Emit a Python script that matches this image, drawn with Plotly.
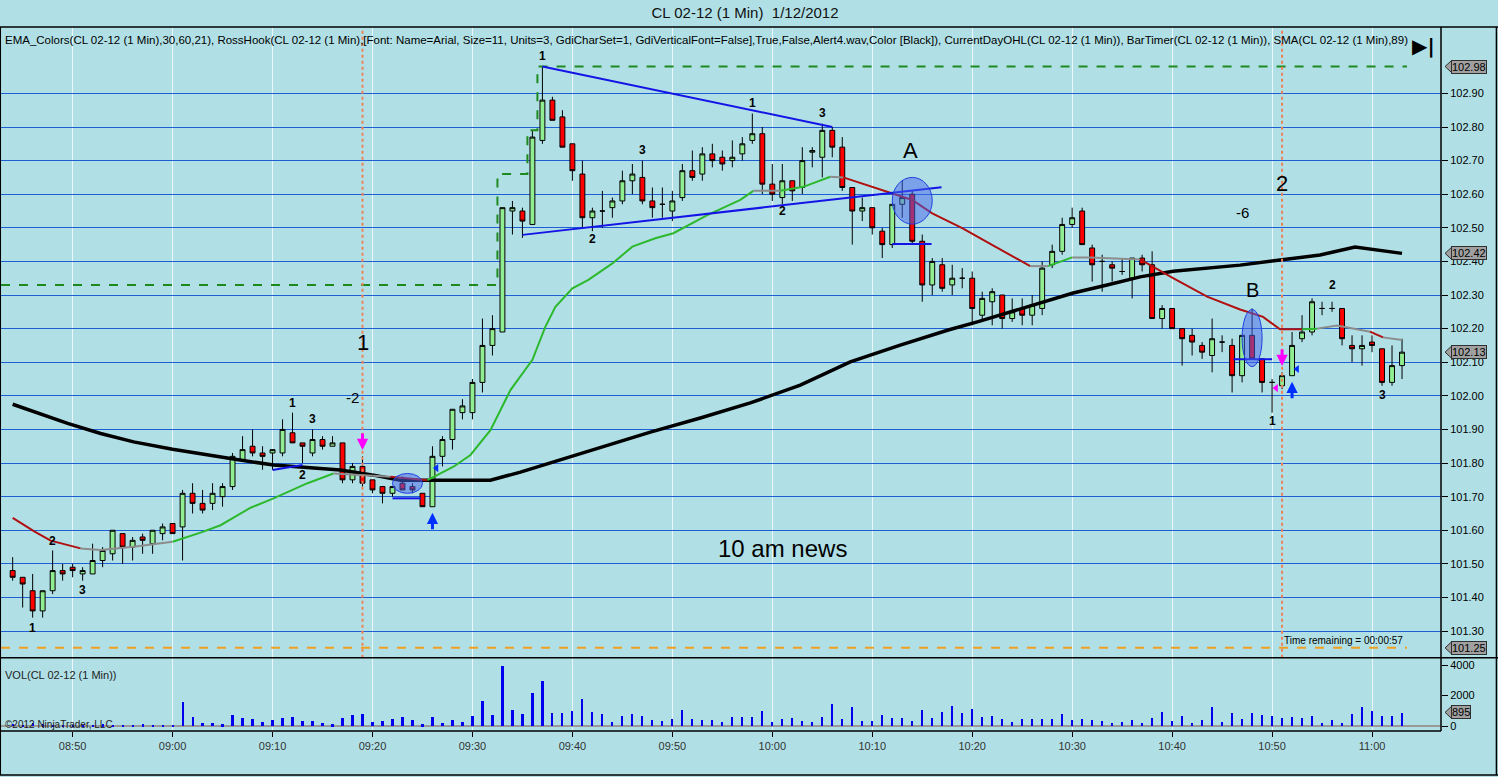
import pandas as pd
import plotly.graph_objects as go

DAY = "2012-01-12"
FIRST_BAR = "08:44"

# one-minute bars, 08:44 .. 11:03
OPEN = [101.48, 101.46, 101.42, 101.36, 101.42, 101.48, 101.49, 101.47, 101.47, 101.51,
        101.53, 101.59, 101.55, 101.58, 101.56, 101.59, 101.62, 101.61, 101.71, 101.68,
        101.68, 101.70, 101.73, 101.81, 101.85, 101.83, 101.83, 101.83, 101.89, 101.86,
        101.83, 101.87, 101.85, 101.86, 101.75, 101.79, 101.75, 101.73, 101.71, 101.74,
        101.73, 101.71, 101.67, 101.82, 101.87, 101.95, 101.95, 102.04, 102.15, 102.19,
        102.55, 102.55, 102.51, 102.76, 102.88, 102.83, 102.75, 102.66, 102.53, 102.55,
        102.56, 102.58, 102.64, 102.65, 102.58, 102.57, 102.55, 102.59, 102.67, 102.66,
        102.72, 102.71, 102.70, 102.72, 102.76, 102.78, 102.63, 102.59, 102.64, 102.62,
        102.725, 102.71, 102.79, 102.74, 102.62, 102.55, 102.56, 102.49, 102.45, 102.57,
        102.60, 102.46, 102.33, 102.39, 102.33, 102.35, 102.35, 102.24, 102.28, 102.30,
        102.23, 102.26, 102.24, 102.26, 102.39, 102.43, 102.51, 102.55, 102.44, 102.40,
        102.39, 102.37, 102.35, 102.41, 102.39, 102.23, 102.26, 102.20, 102.18, 102.15,
        102.12, 102.16, 102.15, 102.06, 102.18, 102.11, 102.04, 102.03, 102.06, 102.17,
        102.19, 102.26, 102.26, 102.26, 102.15, 102.14, 102.16, 102.14, 102.04, 102.09]
HIGH = [101.52, 101.46, 101.47, 101.42, 101.54, 101.50, 101.50, 101.49, 101.56, 101.55,
        101.60, 101.59, 101.58, 101.59, 101.60, 101.62, 101.62, 101.72, 101.74, 101.72,
        101.74, 101.74, 101.83, 101.88, 101.90, 101.85, 101.84, 101.93, 101.95, 101.86,
        101.90, 101.88, 101.88, 101.86, 101.80, 101.82, 101.75, 101.73, 101.73, 101.76,
        101.74, 101.71, 101.85, 101.88, 101.96, 101.99, 102.05, 102.23, 102.24, 102.56,
        102.58, 102.56, 102.79, 102.98, 102.89, 102.85, 102.75, 102.70, 102.56, 102.61,
        102.59, 102.67, 102.69, 102.70, 102.62, 102.62, 102.61, 102.69, 102.73, 102.74,
        102.75, 102.73, 102.76, 102.77, 102.84, 102.80, 102.69, 102.69, 102.64, 102.74,
        102.74, 102.81, 102.80, 102.77, 102.62, 102.59, 102.56, 102.50, 102.57, 102.64,
        102.61, 102.48, 102.41, 102.41, 102.39, 102.38, 102.37, 102.31, 102.32, 102.30,
        102.29, 102.29, 102.30, 102.40, 102.45, 102.53, 102.56, 102.56, 102.45, 102.42,
        102.40, 102.41, 102.41, 102.42, 102.43, 102.27, 102.26, 102.20, 102.20, 102.16,
        102.23, 102.18, 102.17, 102.18, 102.26, 102.11, 102.05, 102.07, 102.19, 102.24,
        102.29, 102.28, 102.28, 102.26, 102.18, 102.18, 102.18, 102.14, 102.15, 102.17]
LOW = [101.45, 101.37, 101.34, 101.34, 101.41, 101.45, 101.46, 101.45, 101.47, 101.49,
       101.51, 101.50, 101.51, 101.53, 101.53, 101.57, 101.59, 101.51, 101.65, 101.65,
       101.66, 101.67, 101.72, 101.81, 101.82, 101.78, 101.78, 101.82, 101.86, 101.80,
       101.82, 101.84, 101.85, 101.74, 101.74, 101.73, 101.71, 101.68, 101.70, 101.72,
       101.71, 101.67, 101.67, 101.79, 101.84, 101.93, 101.93, 102.01, 102.12, 102.19,
       102.48, 102.47, 102.51, 102.75, 102.82, 102.74, 102.64, 102.50, 102.49, 102.50,
       102.53, 102.57, 102.60, 102.57, 102.53, 102.53, 102.52, 102.58, 102.64, 102.64,
       102.68, 102.67, 102.68, 102.70, 102.75, 102.60, 102.58, 102.57, 102.58, 102.60,
       102.68, 102.65, 102.71, 102.61, 102.45, 102.52, 102.48, 102.41, 102.44, 102.53,
       102.45, 102.28, 102.30, 102.31, 102.30, 102.32, 102.21, 102.22, 102.21, 102.20,
       102.22, 102.21, 102.21, 102.24, 102.38, 102.42, 102.50, 102.45, 102.34, 102.31,
       102.34, 102.36, 102.29, 102.37, 102.23, 102.20, 102.20, 102.09, 102.12, 102.11,
       102.07, 102.13, 102.01, 102.04, 102.11, 102.01, 101.95, 102.02, 102.06, 102.16,
       102.18, 102.24, 102.25, 102.15, 102.10, 102.09, 102.13, 102.03, 102.03, 102.05]
CLOSE = [101.46, 101.44, 101.36, 101.42, 101.48, 101.47, 101.48, 101.48, 101.51, 101.54,
         101.60, 101.55, 101.57, 101.57, 101.60, 101.61, 101.59, 101.71, 101.68, 101.66,
         101.71, 101.73, 101.82, 101.84, 101.83, 101.82, 101.84, 101.90, 101.86, 101.85,
         101.87, 101.85, 101.86, 101.75, 101.79, 101.74, 101.72, 101.71, 101.73, 101.72,
         101.72, 101.67, 101.82, 101.87, 101.96, 101.97, 102.04, 102.15, 102.20, 102.56,
         102.56, 102.52, 102.77, 102.88, 102.82, 102.74, 102.67, 102.53, 102.55, 102.55,
         102.58, 102.64, 102.66, 102.58, 102.56, 102.57, 102.58, 102.67, 102.65, 102.72,
         102.70, 102.69, 102.71, 102.75, 102.78, 102.63, 102.60, 102.64, 102.61, 102.70,
         102.73, 102.79, 102.74, 102.62, 102.55, 102.56, 102.50, 102.45, 102.57, 102.59,
         102.46, 102.33, 102.40, 102.32, 102.35, 102.35, 102.26, 102.29, 102.31, 102.23,
         102.25, 102.24, 102.27, 102.38, 102.43, 102.51, 102.53, 102.45, 102.39, 102.40,
         102.38, 102.37, 102.41, 102.39, 102.23, 102.26, 102.20, 102.17, 102.16, 102.13,
         102.17, 102.16, 102.06, 102.18, 102.11, 102.04, 102.04, 102.06, 102.15, 102.19,
         102.28, 102.26, 102.26, 102.17, 102.14, 102.15, 102.15, 102.04, 102.09, 102.13]
VOLUME = [150, 100, 200, 120, 100, 90, 110, 100, 90, 130, 100, 110, 100, 120, 100, 110,
          100, 1600, 610, 180, 180, 130, 720, 550, 500, 290, 400, 550, 610, 350,
          350, 220, 130, 550, 720, 790, 290, 350, 500, 610, 400, 130, 610, 220, 400,
          290, 660, 1660, 720, 3940, 1050, 790, 2190, 2960, 880, 880, 990, 1820, 940, 790,
          290, 660, 790, 660, 400, 350, 500, 1050, 500, 400, 400, 290, 610, 610, 610,
          990, 290, 460, 550, 330, 290, 590, 1490, 460, 1270, 330, 330, 720, 550, 550,
          330, 1050, 550, 940, 1310, 880, 1120, 610, 660, 460, 290, 460, 460, 460, 500,
          790, 400, 460, 400, 330, 180, 290, 400, 220, 550, 940, 330, 660, 220, 400,
          1270, 290, 880, 460, 880, 720, 660, 550, 610, 550, 660, 220, 400, 220, 790,
          1270, 990, 660, 660, 895]

# SMA(89)
SMA_TIME = ["08:44:00", "08:46:12", "08:49:30", "08:52:48", "08:56:06", "09:00:00", "09:02:48",
            "09:06:06", "09:10:06", "09:13:30", "09:16:48", "09:20:06", "09:22:48", "09:26:06",
            "09:28:48", "09:31:48", "09:34:48", "09:38:48", "09:42:48", "09:47:48", "09:52:48",
            "09:57:48", "10:02:48", "10:07:48", "10:12:48", "10:17:36", "10:20:36", "10:26:48",
            "10:30:06", "10:33:30", "10:36:48", "10:40:06", "10:43:30", "10:46:48", "10:50:48",
            "10:54:48", "10:58:18", "11:03:00"]
SMA_VALUE = [101.975, 101.953, 101.918, 101.888, 101.863, 101.841, 101.827,
             101.812, 101.794, 101.787, 101.779, 101.764, 101.749, 101.749,
             101.749, 101.749, 101.773, 101.809, 101.845, 101.892, 101.934,
             101.979, 102.032, 102.101, 102.151, 102.196, 102.221, 102.276,
             102.306, 102.330, 102.354, 102.371, 102.380, 102.389, 102.404,
             102.419, 102.443, 102.424]

# EMA_Colors line; EMA_TREND is the state of the segment starting at each point
EMA_TIME = ["08:44:00", "08:46:12", "08:47:48", "08:49:30", "08:50:48", "08:52:48", "08:56:06",
            "09:00:00", "09:02:48", "09:04:48", "09:07:48", "09:10:06", "09:13:30", "09:16:06",
            "09:18:48", "09:21:48", "09:25:30", "09:28:06", "09:29:48", "09:31:48", "09:33:48",
            "09:36:00", "09:37:18", "09:38:18", "09:40:00", "09:41:36", "09:44:00", "09:46:00",
            "09:48:18", "09:50:06", "09:53:30", "09:56:48", "09:58:06", "10:00:48", "10:03:06",
            "10:05:48", "10:07:06", "10:08:48", "10:10:00", "10:14:00", "10:16:00", "10:19:00",
            "10:22:18", "10:25:48", "10:27:36", "10:30:00", "10:31:48", "10:36:48", "10:40:06",
            "10:43:30", "10:46:48", "10:49:06", "10:50:48", "10:53:00", "10:54:30", "10:56:30",
            "10:59:48", "11:01:06", "11:03:00"]
EMA_VALUE = [101.637, 101.596, 101.569, 101.556, 101.546, 101.541, 101.551,
             101.566, 101.593, 101.615, 101.667, 101.695, 101.740, 101.769,
             101.764, 101.759, 101.749, 101.789, 101.824, 101.898, 102.017,
             102.107, 102.206, 102.265, 102.320, 102.345, 102.394, 102.444,
             102.469, 102.484, 102.538, 102.583, 102.610, 102.610, 102.622,
             102.652, 102.650, 102.634, 102.622, 102.583, 102.543, 102.499,
             102.444, 102.386, 102.386, 102.412, 102.412, 102.406, 102.350,
             102.295, 102.257, 102.235, 102.198, 102.198, 102.200, 102.209,
             102.191, 102.174, 102.166]
EMA_TREND = ["down", "down", "down", "down", "flat", "flat", "flat",
             "up", "up", "up", "up", "up", "up", "flat",
             "flat", "down", "up", "up", "up", "up", "up",
             "up", "up", "up", "up", "up", "up", "up",
             "up", "up", "up", "up", "flat", "up", "up",
             "flat", "down", "down", "down", "down", "down", "down",
             "down", "flat", "up", "flat", "flat", "down", "down",
             "down", "down", "down", "down", "up", "flat", "flat",
             "down", "flat", "flat"]

# CurrentDayOHL
DAY_HIGH_TIME = ["08:42:50", "09:32:30", "09:35:30", "09:36:30", "11:03:30"]
DAY_HIGH_VALUE = [102.33, 102.66, 102.79, 102.98, 102.98]
DAY_LOW = 101.25

# chart drawings
SIGNAL_TIMES = ["09:19", "10:51"]
TRENDLINES = [("09:37:00", 102.98, "10:06:00", 102.80),
              ("09:35:00", 102.479, "10:16:56", 102.621),
              ("09:10:00", 101.779, "09:13:00", 101.794),
              ("09:22:00", 101.695, "09:24:50", 101.695),
              ("10:12:00", 102.452, "10:15:56", 102.452),
              ("10:46:08", 102.109, "10:50:00", 102.109)]
ELLIPSES = [("09:22:00", 101.71, "09:25:00", 101.769),
            ("10:12:00", 102.511, "10:16:00", 102.65),
            ("10:47:00", 102.087, "10:49:00", 102.257)]
HOOK_LABELS = [("08:46", 101.31, "1"), ("08:48", 101.568, "2"), ("08:51", 101.422, "3"),
               ("09:12", 101.98, "1"), ("09:14", 101.93, "3"), ("09:13", 101.764, "2"),
               ("09:37", 103.011, "1"), ("09:42", 102.467, "2"), ("09:47", 102.732, "3"),
               ("09:58", 102.871, "1"), ("10:05", 102.842, "3"), ("10:01", 102.55, "2"),
               ("10:50", 101.925, "1"), ("10:56", 102.33, "2"), ("11:01", 102.002, "3")]
NOTES = [("09:19:00", 102.16, "1", 22), ("09:18:00", 101.996, "-2", 15),
         ("10:13:50", 102.729, "A", 22), ("10:51:00", 102.633, "2", 22),
         ("10:47:00", 102.547, "-6", 15), ("10:48:00", 102.315, "B", 20),
         ("10:01:00", 101.547, "10 am news", 24)]
# arrow tips (price) with direction
SIGNAL_ARROWS = [("09:19:00", 101.839, "down"), ("09:26:00", 101.652, "up"),
                 ("10:51:00", 102.089, "down"), ("10:52:00", 102.042, "up")]
HOOK_MARKS = [("09:26:24", 101.785, "#0030FF"), ("10:52:30", 102.08, "#0030FF"),
              ("10:50:24", 102.023, "#FF00FF")]

INDICATORS = ("EMA_Colors(CL 02-12 (1 Min),30,60,21), RossHook(CL 02-12 (1 Min),[Font: Name=Arial, "
              "Size=11, Units=3, GdiCharSet=1, GdiVerticalFont=False],True,False,Alert4.wav,Color [Black]), "
              "CurrentDayOHL(CL 02-12 (1 Min)), BarTimer(CL 02-12 (1 Min)), SMA(CL 02-12 (1 Min),89)")

BG = "#B0E0E6"
FONT = "Liberation Sans, Arial, sans-serif"
TREND_COLORS = {"up": "#2DB82D", "down": "#B01010", "flat": "#8C8C8C"}
ARROW_COLORS = {"up": "#0030FF", "down": "#FF00FF"}


def ts(t):
    return pd.Timestamp(f"{DAY} {t}")


bar_time = pd.date_range(ts(FIRST_BAR), periods=len(OPEN), freq="min")

fig = go.Figure()

# moving averages (under the bars)
fig.add_trace(go.Scatter(x=[ts(t) for t in SMA_TIME], y=SMA_VALUE, mode="lines",
                         line=dict(color="black", width=3.5), hoverinfo="skip",
                         showlegend=False))

seg_start = 0
for i in range(1, len(EMA_TIME)):
    if i == len(EMA_TIME) - 1 or EMA_TREND[i] != EMA_TREND[seg_start]:
        idx = range(seg_start, i + 1)
        fig.add_trace(go.Scatter(x=[ts(EMA_TIME[k]) for k in idx], y=[EMA_VALUE[k] for k in idx],
                                 mode="lines", hoverinfo="skip", showlegend=False,
                                 line=dict(color=TREND_COLORS[EMA_TREND[seg_start]], width=2)))
        seg_start = i

# current day high / low
fig.add_trace(go.Scatter(x=[ts(t) for t in DAY_HIGH_TIME], y=DAY_HIGH_VALUE, mode="lines",
                         line=dict(color="#1E8A1E", width=2, dash="dash", shape="hv"),
                         hoverinfo="skip", showlegend=False))
fig.add_trace(go.Scatter(x=[ts(DAY_HIGH_TIME[0]), ts(DAY_HIGH_TIME[-1])], y=[DAY_LOW, DAY_LOW],
                         mode="lines", line=dict(color="#F0A020", width=2, dash="dash"),
                         hoverinfo="skip", showlegend=False))

fig.add_trace(go.Candlestick(
    x=bar_time, open=OPEN, high=HIGH, low=LOW, close=CLOSE,
    increasing=dict(fillcolor="#90EE90", line=dict(color="black", width=1)),
    decreasing=dict(fillcolor="#FF0000", line=dict(color="black", width=1)),
    whiskerwidth=0, showlegend=False, name="CL 02-12"))

fig.add_trace(go.Scatter(x=[ts(t) for t, _, _ in HOOK_MARKS], y=[p for _, p, _ in HOOK_MARKS],
                         mode="markers", hoverinfo="skip", showlegend=False,
                         marker=dict(symbol="triangle-left", size=7, color=[c for _, _, c in HOOK_MARKS])))

fig.add_trace(go.Bar(x=bar_time, y=VOLUME, yaxis="y2", marker=dict(color="#0000EE", line=dict(width=0)),
                     width=13000, showlegend=False, hoverinfo="skip"))

shapes = []
for t0, p0, t1, p1 in TRENDLINES:
    shapes.append(dict(type="line", x0=ts(t0), y0=p0, x1=ts(t1), y1=p1, xref="x", yref="y",
                       line=dict(color="#1414E6", width=2)))
for t0, p0, t1, p1 in ELLIPSES:
    shapes.append(dict(type="circle", x0=ts(t0), y0=p0, x1=ts(t1), y1=p1, xref="x", yref="y",
                       fillcolor="rgba(70,100,235,0.5)", line=dict(color="#2040E0", width=1)))
for t in SIGNAL_TIMES:
    shapes.append(dict(type="line", x0=ts(t), x1=ts(t), xref="x", y0=0.104, y1=0.995, yref="paper",
                       line=dict(color="#F08058", width=2, dash="dot")))
# frame lines
for x0, y0, x1, y1 in [(-0.001, 1, 1.04, 1), (1, 0, 1, 1), (0, 0.104, 1.04, 0.104), (0, 0, 1, 0),
                       (-0.001, -0.0625, 1.04, -0.0625), (-0.0005, -0.0625, -0.0005, 1),
                       (1.0385, -0.0625, 1.0385, 1)]:
    shapes.append(dict(type="line", xref="paper", yref="paper", x0=x0, y0=y0, x1=x1, y1=y1,
                       line=dict(color="black", width=1.5)))

annotations = []
for t, p, s in HOOK_LABELS:
    annotations.append(dict(x=ts(t), y=p, text=f"<b>{s}</b>", showarrow=False,
                            font=dict(size=12, color="black", family=FONT)))
for t, p, s, size in NOTES:
    annotations.append(dict(x=ts(t), y=p, text=s, showarrow=False,
                            font=dict(size=size, color="black", family=FONT)))
for t, p, d in SIGNAL_ARROWS:
    annotations.append(dict(x=ts(t), y=p, text="", showarrow=True, ax=0,
                            ay=-18 if d == "down" else 18, arrowhead=2, arrowsize=0.75,
                            arrowwidth=3, arrowcolor=ARROW_COLORS[d]))

# right-axis value markers (pointed grey tags)
for val, yref, txt, half in [(DAY_HIGH_VALUE[-1], "y", f"{DAY_HIGH_VALUE[-1]:.2f}", 0.019),
                             (SMA_VALUE[-1], "y", f"{SMA_VALUE[-1]:.2f}", 0.019),
                             (CLOSE[-1], "y", f"{CLOSE[-1]:.2f}", 0.019),
                             (DAY_LOW, "y", f"{DAY_LOW:.2f}", 0.019),
                             (VOLUME[-1], "y2", f"{VOLUME[-1]}", 420)]:
    shapes.append(dict(type="path", xref="paper", yref=yref,
                       path=f"M 1.0028,{val} L 1.0076,{val + half} L 1.0076,{val - half} Z",
                       fillcolor="#A0A0A0", line=dict(color="#303030", width=1)))
    annotations.append(dict(xref="paper", x=1, xanchor="left", xshift=10, yref=yref, y=val,
                            text=txt, showarrow=False, bgcolor="#A0A0A0", bordercolor="#303030",
                            borderwidth=1, borderpad=0, font=dict(size=11, color="black", family=FONT)))

annotations += [
    dict(xref="paper", yref="paper", x=0.0015, y=0.9815, xanchor="left", yanchor="middle",
         text=INDICATORS, showarrow=False, font=dict(size=11.5, color="black", family=FONT)),
    dict(xref="paper", yref="paper", x=0.0015, y=0.0795, xanchor="left", yanchor="middle",
         text="VOL(CL 02-12 (1 Min))", showarrow=False, font=dict(size=11, color="#222", family=FONT)),
    dict(xref="paper", yref="paper", x=0.0015, y=0.0099, xanchor="left", yanchor="middle",
         text="©2012 NinjaTrader, LLC", showarrow=False, font=dict(size=10, color="#222", family=FONT)),
    dict(xref="paper", yref="paper", x=0.975, y=0.128, xanchor="right", yanchor="middle",
         text="Time remaining = 00:00:57", showarrow=False, font=dict(size=10, color="black", family=FONT)),
    dict(xref="paper", yref="paper", x=0.988, y=0.973, xanchor="center", yanchor="middle",
         text="<b>▶|</b>", showarrow=False, font=dict(size=20, color="black", family="DejaVu Sans")),
]

fig.update_layout(
    width=1498, height=777,
    margin=dict(l=1, r=57, t=27, b=46),
    paper_bgcolor=BG, plot_bgcolor=BG,
    font=dict(family=FONT, size=11, color="black"),
    title=dict(text="CL 02-12 (1 Min)  1/12/2012", x=745 / 1498, xanchor="center",
               y=1 - 13 / 777, yanchor="middle", font=dict(size=15, color="#111", family=FONT)),
    showlegend=False, hovermode=False, bargap=0,
    xaxis=dict(type="date", anchor="y2", range=[ts("08:42:50"), ts("11:06:54")],
               tick0=ts("08:50"), dtick=600000, tickformat="%H:%M",
               showgrid=True, gridcolor="rgba(255,255,255,0.75)", gridwidth=1,
               ticks="outside", ticklen=5, tickcolor="black",
               tickfont=dict(size=11, color="#333"), rangeslider=dict(visible=False),
               showline=False, zeroline=False),
    yaxis=dict(domain=[0.104, 1], range=[101.2205, 103.0976], side="right",
               tickvals=[101.3 + 0.1 * k for k in range(17)], tickformat=".2f",
               showgrid=True, gridcolor="#1F5FD6",
               gridwidth=1, ticks="outside", ticklen=6, tickcolor="black",
               tickfont=dict(size=11, color="black"), zeroline=False, showline=False),
    yaxis2=dict(domain=[0, 0.104], range=[-328, 4479], side="right",
                tickvals=[0, 2000, 4000], showgrid=False, zeroline=True, zerolinecolor="#999999",
                zerolinewidth=2, ticks="outside", ticklen=6, tickcolor="black",
                tickfont=dict(size=11, color="black"), showline=False),
    shapes=shapes, annotations=annotations,
)

# page body without the default browser margin, so the figure fills the window
fig.write_html("out.html", config={"displayModeBar": False},
               post_script="document.body.style.margin='0';")
